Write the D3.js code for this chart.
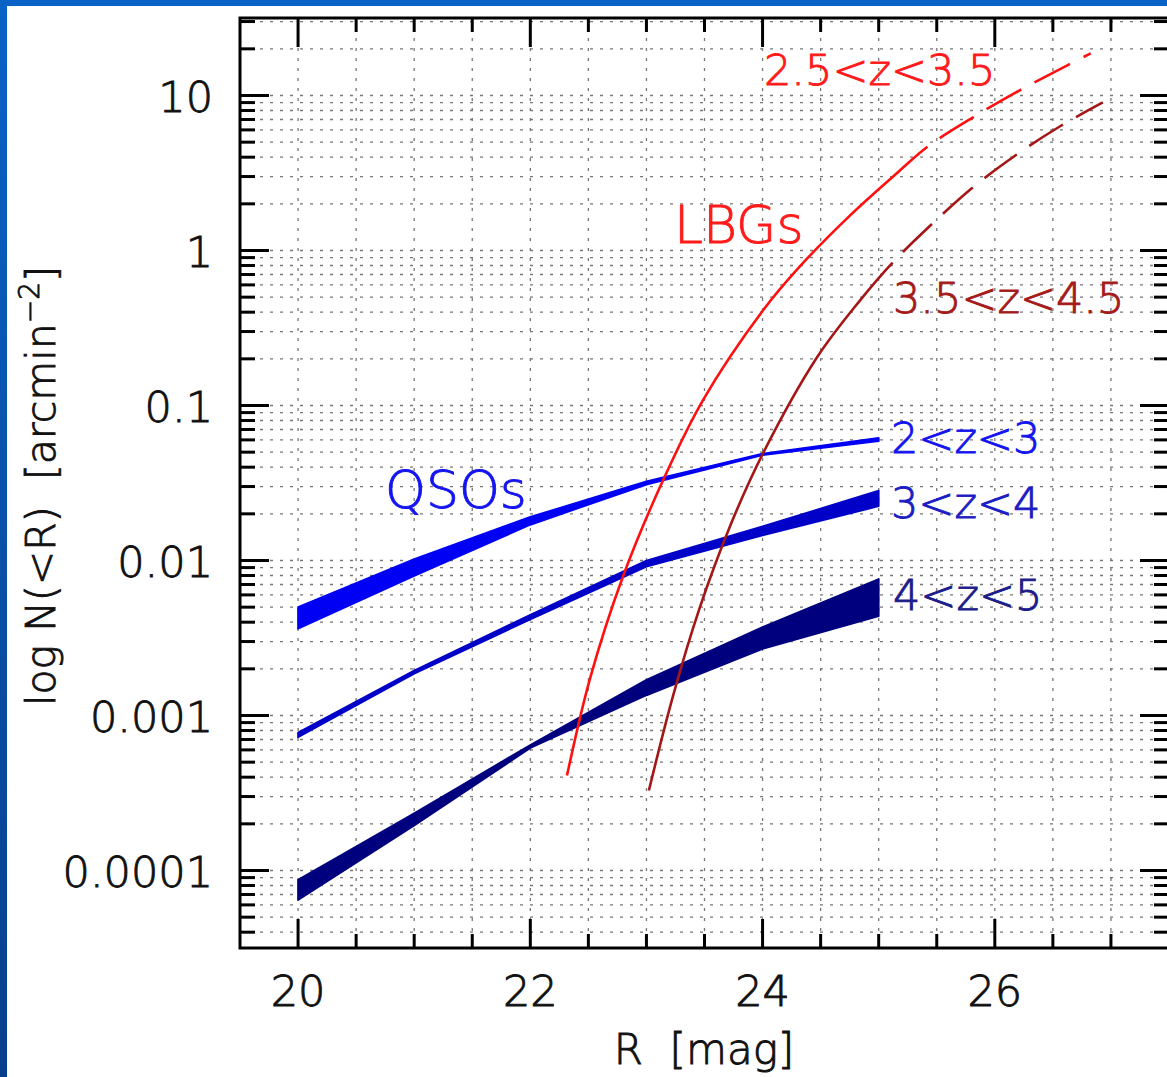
<!DOCTYPE html>
<html>
<head>
<meta charset="utf-8">
<script src="https://cdn.jsdelivr.net/npm/d3@7"></script>
<style>
  body { margin: 0; background: #fff; }
  svg { display: block; }
  text { font-family: "DejaVu Sans", sans-serif; font-weight: 200; }
</style>
</head>
<body>
<svg id="chart"></svg>
<script>
// QSO counts, N(<R) per arcmin^2, upper and lower edge of each band
const qsoMag = [20, 21, 22, 23, 24, 25];
const qso23Hi = [0.00501, 0.0102, 0.0191, 0.0324, 0.0490, 0.0617];
const qso23Lo = [0.00363, 0.00794, 0.0170, 0.0309, 0.0479, 0.0589];
const qso34Hi = [0.000776, 0.00195, 0.00447, 0.0100, 0.0166, 0.0282];
const qso34Lo = [0.000724, 0.00186, 0.00417, 0.00912, 0.0145, 0.0224];
const qso45Hi = [0.0000871, 0.000234, 0.000646, 0.00170, 0.00372, 0.00759];
const qso45Lo = [0.0000646, 0.000195, 0.000617, 0.00135, 0.00269, 0.00437];

// LBG counts; beyond the *DashFrom magnitude the curve is dashed
const lbg1Mag = [22.316, 22.514, 22.798, 23.142, 23.486, 24.003, 24.321, 24.752, 25.182, 25.423,
  25.81, 26.215, 26.62, 26.826];
const lbg1N = [0.000410, 0.00173, 0.00789, 0.0328, 0.108, 0.410, 0.789, 1.68, 3.28, 4.69,
  7.21, 10.8, 15.6, 18.7];
const lbg1DashFrom = 25.42;

const lbg2Mag = [23.021, 23.228, 23.46, 23.719, 24.003, 24.468, 24.838, 25.122,
  25.483, 25.81, 26.189, 26.559, 26.93];
const lbg2N = [0.000328, 0.00133, 0.00498, 0.0166, 0.0490, 0.204, 0.475, 0.838,
  1.54, 2.55, 4.16, 6.31, 9.02];
const lbg2DashFrom = 25.12;

const xTickLabels = [20, 22, 24, 26];
const yTickLabels = ['0.0001', '0.001', '0.01', '0.1', '1', '10'];

const W = 1167, H = 1077;
const svg = d3.select('#chart').attr('width', W).attr('height', H);

// blue slide border
const grad = svg.append('defs').append('linearGradient')
  .attr('id', 'edge').attr('x1', 0).attr('y1', 0).attr('x2', 0).attr('y2', 1);
grad.append('stop').attr('offset', '0%').attr('stop-color', '#0a62c6');
grad.append('stop').attr('offset', '100%').attr('stop-color', '#083f8c');
svg.append('rect').attr('x', 0).attr('y', 0).attr('width', 7).attr('height', H).attr('fill', 'url(#edge)');
svg.append('rect').attr('x', 0).attr('y', 0).attr('width', W).attr('height', 6).attr('fill', '#0a62c6');

const x = d3.scaleLinear().domain([19.5, 27.5]).range([240, 1169]);
const y = d3.scaleLog().domain([Math.pow(10, -4.5), Math.pow(10, 1.5)]).range([948, 18]);
const [x0, x1] = x.range();
const [y0, y1] = y.range();

const xMinor = d3.range(20, 27.01, 0.5);
const yMinor = y.ticks();
const isDecade = v => Math.abs(Math.log10(v) - Math.round(Math.log10(v))) < 1e-6;

// dotted grid
const grid = svg.append('g').attr('stroke', '#777').attr('stroke-width', 1.3)
  .attr('stroke-dasharray', '3,7');
grid.selectAll('.gx').data(xMinor).enter().append('line')
  .attr('x1', d => x(d)).attr('x2', d => x(d)).attr('y1', y1).attr('y2', y0);
grid.selectAll('.gy').data(yMinor).enter().append('line')
  .attr('y1', d => y(d)).attr('y2', d => y(d)).attr('x1', x0).attr('x2', x1);

// ticks on all four sides
const ticks = svg.append('g').attr('stroke', '#000').attr('stroke-width', 3);
xMinor.forEach(v => {
  const len = Number.isInteger(v) && v % 2 === 0 ? 29 : 14;
  ticks.append('line').attr('x1', x(v)).attr('x2', x(v)).attr('y1', y0).attr('y2', y0 - len);
  ticks.append('line').attr('x1', x(v)).attr('x2', x(v)).attr('y1', y1).attr('y2', y1 + len);
});
yMinor.forEach(v => {
  const len = isDecade(v) ? 29 : 15;
  ticks.append('line').attr('y1', y(v)).attr('y2', y(v)).attr('x1', x0).attr('x2', x0 + len);
  ticks.append('line').attr('y1', y(v)).attr('y2', y(v)).attr('x1', x1).attr('x2', x1 - len);
});

svg.append('rect').attr('x', x0).attr('y', y1).attr('width', x1 - x0).attr('height', y0 - y1)
  .attr('fill', 'none').attr('stroke', '#000').attr('stroke-width', 3);

// tick labels
const ink = '#111';
svg.selectAll('.xl').data(xTickLabels).enter().append('text')
  .attr('x', d => x(d)).attr('y', 1006).attr('text-anchor', 'middle')
  .attr('font-size', 43).attr('fill', ink).attr('stroke', ink).attr('stroke-width', 0.9)
  .text(d => d);
svg.selectAll('.yl').data(yTickLabels).enter().append('text')
  .attr('x', 213).attr('y', d => y(+d) + 16).attr('text-anchor', 'end')
  .attr('font-size', 43).attr('fill', ink).attr('stroke', ink).attr('stroke-width', 0.9)
  .text(d => d);

// axis titles
svg.append('text').attr('x', 704).attr('y', 1064).attr('text-anchor', 'middle')
  .attr('font-size', 42).attr('fill', ink).attr('stroke', ink).attr('stroke-width', 0.9)
  .style('white-space', 'pre').text('R  [mag]');
const yt = svg.append('text').attr('transform', 'translate(55,486) rotate(-90)')
  .attr('text-anchor', 'middle').attr('font-size', 41).attr('fill', ink)
  .attr('stroke', ink).attr('stroke-width', 0.9).style('white-space', 'pre');
yt.append('tspan').text('log N(<R)  [arcmin');
yt.append('tspan').attr('font-size', 28).attr('dy', -16).text('\u22122');
yt.append('tspan').attr('dy', 16).text(']');

// QSO bands
const band = d3.area().x(d => x(d.m)).y0(d => y(d.lo)).y1(d => y(d.hi));
const bands = [
  { hi: qso23Hi, lo: qso23Lo, color: '#0000f5' },
  { hi: qso34Hi, lo: qso34Lo, color: '#0000c8' },
  { hi: qso45Hi, lo: qso45Lo, color: '#00007e' }
];
bands.forEach(b => {
  const pts = qsoMag.map((m, i) => ({ m: m, hi: b.hi[i], lo: b.lo[i] }));
  svg.append('path').datum(pts).attr('d', band)
    .attr('fill', b.color).attr('stroke', b.color).attr('stroke-width', 1.8)
    .attr('stroke-linejoin', 'round');
});

// LBG curves: one smooth path, solid up to the split then dashed
const line = d3.line().x(d => x(d[0])).y(d => y(d[1])).curve(d3.curveCatmullRom.alpha(0.5));
const lbgs = [
  { m: lbg1Mag, n: lbg1N, split: lbg1DashFrom, color: '#ff1010' },
  { m: lbg2Mag, n: lbg2N, split: lbg2DashFrom, color: '#a51616' }
];
lbgs.forEach(l => {
  const p = svg.append('path').datum(d3.zip(l.m, l.n)).attr('d', line)
    .attr('fill', 'none').attr('stroke', l.color).attr('stroke-width', 2.6);
  const node = p.node();
  const total = node.getTotalLength();
  const xs = x(l.split);
  let lo = 0, hi = total;
  for (let k = 0; k < 40; k++) {
    const mid = (lo + hi) / 2;
    if (node.getPointAtLength(mid).x < xs) lo = mid; else hi = mid;
  }
  const dash = [lo];
  let len = lo;
  while (len < total) { dash.push(15, 40); len += 55; }
  p.attr('stroke-dasharray', dash.join(','));
});

// labels
const labels = [
  { t: 'QSOs', x: 385, y: 508, s: 52, c: '#1414f0' },
  { t: 'LBGs', x: 674, y: 243, s: 52, c: '#ff1a1a' },
  { t: '2.5<z<3.5', x: 764, y: 85, s: 43, c: '#ff1a1a' },
  { t: '3.5<z<4.5', x: 893, y: 313, s: 43, c: '#a51a1a' },
  { t: '2<z<3', x: 891, y: 453, s: 43, c: '#1414f0' },
  { t: '3<z<4', x: 891, y: 518, s: 43, c: '#1c1cc4' },
  { t: '4<z<5', x: 893, y: 610, s: 43, c: '#1c1c8a' }
];
svg.selectAll('.lab').data(labels).enter().append('text')
  .attr('x', d => d.x).attr('y', d => d.y).attr('font-size', d => d.s)
  .attr('fill', d => d.c).attr('stroke', d => d.c).attr('stroke-width', 0.9)
  .text(d => d.t);
</script>
</body>
</html>
